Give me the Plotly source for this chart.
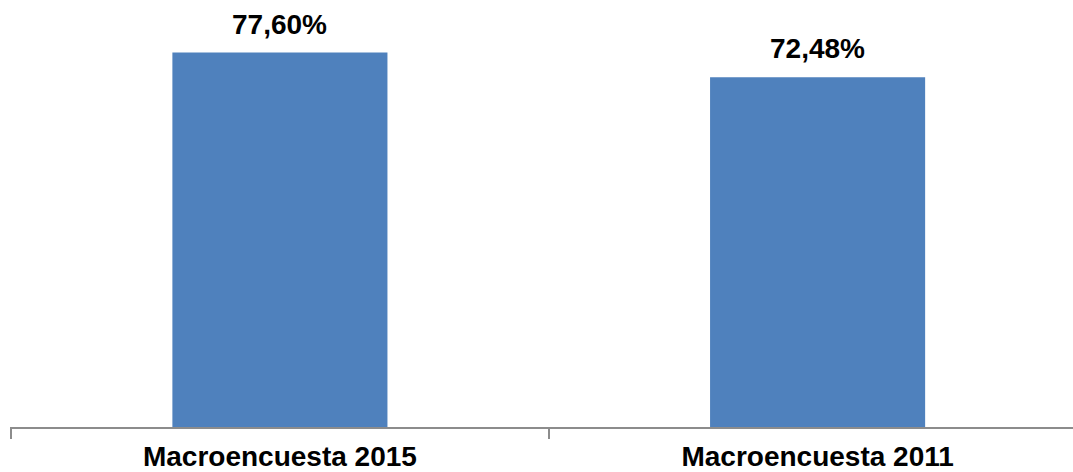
import plotly.graph_objects as go

categories = ["Macroencuesta 2015", "Macroencuesta 2011"]
values = [77.60, 72.48]
labels = ["77,60%", "72,48%"]

FONT = "Liberation Sans, Arial, sans-serif"

fig = go.Figure()
fig.add_trace(go.Bar(
    x=categories, y=values, width=0.4,
    marker=dict(color="#4F81BD", line=dict(width=0)),
    hoverinfo="skip",
))

for c, v, t in zip(categories, values, labels):
    fig.add_annotation(
        x=c, y=v, text="<b>%s</b>" % t, showarrow=False,
        xanchor="center", yanchor="bottom", yshift=11,
        font=dict(family=FONT, size=28, color="black"),
    )

fig.update_layout(
    width=1073, height=472,
    margin=dict(l=10, r=0, t=41, b=45, autoexpand=False),
    paper_bgcolor="white", plot_bgcolor="white",
    showlegend=False,
    xaxis=dict(
        type="category", range=[-0.502, 1.475],
        showline=True, linecolor="#8C8C8C", linewidth=1.5,
        ticks="outside", tickson="boundaries", ticklen=10,
        tickcolor="#8C8C8C", tickwidth=1.5,
        tickfont=dict(family=FONT, size=28, color="black"),
        ticklabelstandoff=4, automargin=False,
        showgrid=False, zeroline=False,
        tickprefix="<b>", ticksuffix="</b>",
    ),
    yaxis=dict(
        range=[0, 80], visible=False, showgrid=False, zeroline=False,
    ),
)

fig.write_html(
    "out.html",
    config={"displayModeBar": False},
    post_script="document.body.style.margin='0';document.body.style.overflow='hidden';",
)
